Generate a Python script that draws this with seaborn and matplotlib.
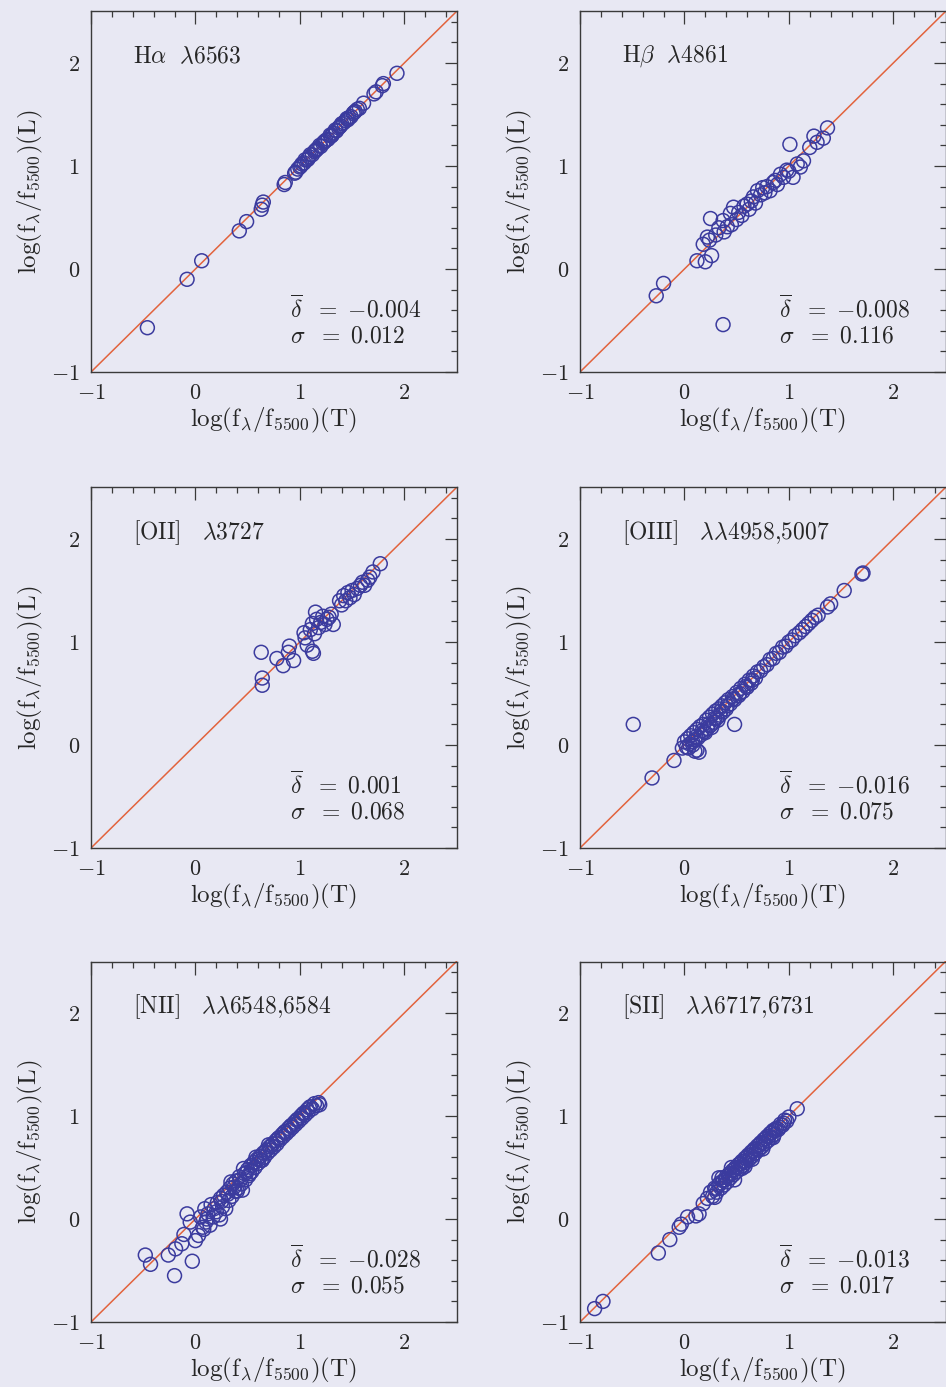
import numpy as np
import pandas as pd
import matplotlib
matplotlib.use("Agg")
import matplotlib.pyplot as plt
from matplotlib.ticker import MultipleLocator, FuncFormatter
import seaborn as sns

# ---- data: log(f_lambda/f_5500) from template fit (T) and line fit (L) ----
ha_t = [-0.46, -0.08, 0.06, 0.42, 0.49, 0.63, 0.64, 0.65, 0.85, 0.86, 0.95, 0.96, 0.98,
        1.00, 1.02, 1.04, 1.05, 1.07, 1.09, 1.10, 1.12, 1.14, 1.15, 1.17, 1.19, 1.20,
        1.22, 1.24, 1.25, 1.27, 1.29, 1.30, 1.32, 1.34, 1.35, 1.37, 1.39, 1.40, 1.42,
        1.44, 1.45, 1.47, 1.49, 1.51, 1.53, 1.55, 1.57, 1.61, 1.71, 1.73, 1.79, 1.80, 1.93,
        1.01, 1.08, 1.16, 1.23, 1.31, 1.38, 1.46, 1.52]
ha_l = [-0.57, -0.10, 0.08, 0.37, 0.46, 0.58, 0.62, 0.65, 0.82, 0.84, 0.93, 0.94, 0.97,
        0.99, 1.02, 1.03, 1.06, 1.06, 1.09, 1.11, 1.11, 1.14, 1.15, 1.17, 1.20, 1.19,
        1.22, 1.24, 1.25, 1.26, 1.30, 1.29, 1.32, 1.35, 1.34, 1.37, 1.39, 1.41, 1.42,
        1.44, 1.46, 1.47, 1.48, 1.51, 1.53, 1.55, 1.56, 1.61, 1.70, 1.72, 1.78, 1.80, 1.90,
        1.00, 1.07, 1.16, 1.23, 1.30, 1.38, 1.45, 1.52]

hb_t = [-0.27, -0.20, 0.37, 0.12, 0.20, 0.26, 0.18, 0.22, 0.25, 0.24, 0.30, 0.33, 0.37,
        0.38, 0.41, 0.44, 0.45, 0.47, 0.50, 0.52, 0.55, 0.57, 0.60, 0.62, 0.64, 0.66,
        0.68, 0.70, 0.73, 0.75, 0.77, 0.79, 0.82, 0.85, 0.87, 0.89, 0.92, 0.95, 0.98,
        1.00, 1.04, 1.08, 1.11, 1.14, 1.01, 1.20, 1.24, 1.27, 1.33, 1.37]
hb_l = [-0.26, -0.14, -0.54, 0.08, 0.07, 0.13, 0.24, 0.31, 0.49, 0.28, 0.33, 0.40, 0.47,
        0.36, 0.41, 0.54, 0.43, 0.60, 0.48, 0.55, 0.52, 0.61, 0.63, 0.58, 0.66, 0.70,
        0.64, 0.76, 0.72, 0.79, 0.74, 0.80, 0.76, 0.84, 0.86, 0.82, 0.92, 0.89, 0.96,
        0.95, 0.89, 1.02, 0.99, 1.05, 1.21, 1.18, 1.29, 1.23, 1.27, 1.37]

o2_t = [0.63, 0.64, 0.64, 0.78, 0.84, 0.90, 0.89, 0.94, 1.04, 1.05, 1.07, 1.12, 1.13,
        1.15, 1.10, 1.12, 1.14, 1.16, 1.18, 1.20, 1.22, 1.24, 1.26, 1.28, 1.30, 1.32,
        1.38, 1.40, 1.42, 1.44, 1.46, 1.48, 1.50, 1.52, 1.55, 1.58, 1.60, 1.62, 1.65,
        1.67, 1.70, 1.77]
o2_l = [0.90, 0.65, 0.58, 0.84, 0.77, 0.96, 0.90, 0.82, 1.09, 1.04, 0.97, 0.91, 0.89,
        1.29, 1.12, 1.18, 1.08, 1.22, 1.14, 1.19, 1.25, 1.17, 1.22, 1.24, 1.27, 1.17,
        1.40, 1.36, 1.45, 1.40, 1.48, 1.43, 1.50, 1.46, 1.52, 1.55, 1.58, 1.55, 1.60,
        1.63, 1.68, 1.76]

o3_t = [-0.49, 0.48, -0.31, -0.10, -0.02, 0.12, 0.14, 0.10,
        0.00, 0.02, 0.03, 0.05, 0.06, 0.08, 0.09, 0.10, 0.12, 0.13, 0.15, 0.16, 0.18,
        0.19, 0.21, 0.22, 0.24, 0.25, 0.27, 0.28, 0.30, 0.31, 0.33, 0.34, 0.36, 0.37,
        0.39, 0.40, 0.42, 0.44, 0.46, 0.48, 0.50, 0.52, 0.54, 0.56, 0.58, 0.60, 0.62,
        0.64, 0.66, 0.68, 0.70, 0.73, 0.76, 0.79, 0.82, 0.85, 0.88, 0.91, 0.94, 0.97,
        1.00, 1.03, 1.06, 1.10, 1.13, 1.16, 1.19, 1.22, 1.25, 1.28,
        1.37, 1.40, 1.53, 1.70, 1.71,
        0.04, 0.11, 0.17, 0.23, 0.29, 0.35, 0.41, 0.47, 0.53, 0.59, 0.65, 0.20, 0.26,
        0.32, 0.08]
o3_l = [0.20, 0.20, -0.32, -0.15, -0.03, -0.05, -0.07, -0.06,
        0.03, -0.02, 0.06, 0.01, 0.09, 0.03, 0.12, 0.05, 0.15, 0.07, 0.18, 0.10, 0.20,
        0.13, 0.24, 0.16, 0.27, 0.19, 0.30, 0.22, 0.33, 0.26, 0.35, 0.29, 0.38, 0.32,
        0.41, 0.35, 0.44, 0.40, 0.47, 0.44, 0.51, 0.48, 0.55, 0.52, 0.59, 0.56, 0.63,
        0.60, 0.67, 0.65, 0.71, 0.72, 0.76, 0.78, 0.83, 0.84, 0.89, 0.90, 0.95, 0.96,
        1.00, 1.02, 1.06, 1.09, 1.12, 1.15, 1.18, 1.21, 1.24, 1.26,
        1.34, 1.37, 1.50, 1.66, 1.67,
        -0.03, 0.08, 0.14, 0.20, 0.26, 0.33, 0.38, 0.45, 0.50, 0.57, 0.63, 0.12, 0.17,
        0.24, 0.00]

n2_t = [-0.48, -0.43, -0.20, -0.03, -0.26, -0.19, -0.13, -0.11, -0.08, -0.05, 0.00,
        0.03, 0.08, 0.11, 0.24,
        0.05, 0.07, 0.09, 0.10, 0.12, 0.14, 0.15, 0.17, 0.18, 0.20, 0.21, 0.23, 0.24,
        0.26, 0.27, 0.29, 0.30, 0.32, 0.33, 0.35, 0.36, 0.38, 0.39, 0.41, 0.42, 0.44,
        0.45, 0.47, 0.48, 0.50, 0.51, 0.53, 0.54, 0.56, 0.57, 0.59, 0.60, 0.62, 0.63,
        0.65, 0.66, 0.68, 0.69, 0.71, 0.72, 0.74, 0.75, 0.77, 0.78, 0.80, 0.81, 0.83,
        0.84, 0.86, 0.87, 0.89, 0.90, 0.92, 0.93, 0.95, 0.96, 0.98, 0.99, 1.01, 1.02,
        1.04, 1.05, 1.07, 1.08, 1.10, 1.12, 1.14, 1.16, 1.18, 1.19,
        0.25, 0.31, 0.37, 0.43, 0.49, 0.55, 0.61, 0.67, 0.73, 0.79, 0.85, 0.91, 0.97,
        1.03, 1.09, 0.34, 0.40, 0.46, 0.52, 0.58, 0.64, 0.70]
n2_l = [-0.35, -0.44, -0.55, -0.41, -0.35, -0.29, -0.24, -0.15, 0.05, -0.03, -0.21,
        -0.16, -0.10, 0.00, 0.00,
        0.02, -0.08, 0.10, -0.03, 0.05, -0.06, 0.14, 0.02, 0.10, 0.07, 0.16, 0.04, 0.20,
        0.12, 0.23, 0.10, 0.26, 0.18, 0.30, 0.22, 0.34, 0.27, 0.37, 0.30, 0.41, 0.34,
        0.28, 0.44, 0.38, 0.48, 0.42, 0.52, 0.46, 0.55, 0.50, 0.58, 0.54, 0.61, 0.57,
        0.64, 0.60, 0.67, 0.64, 0.70, 0.67, 0.73, 0.70, 0.76, 0.73, 0.79, 0.77, 0.82,
        0.80, 0.85, 0.83, 0.88, 0.86, 0.91, 0.89, 0.94, 0.92, 0.97, 0.95, 1.00, 0.98,
        1.03, 1.01, 1.06, 1.04, 1.09, 1.07, 1.12, 1.10, 1.13, 1.11,
        0.17, 0.24, 0.31, 0.38, 0.45, 0.52, 0.58, 0.65, 0.71, 0.78, 0.84, 0.90, 0.96,
        1.02, 1.08, 0.36, 0.27, 0.49, 0.44, 0.60, 0.57, 0.72]

s2_t = [-0.86, -0.78, -0.25, -0.14, -0.05, -0.03, 0.03, 0.11, 0.14, 0.18, 0.29, 0.33,
        0.22, 0.25, 0.27, 0.29, 0.31, 0.33, 0.35, 0.37, 0.38, 0.40, 0.41, 0.43, 0.44,
        0.46, 0.47, 0.49, 0.50, 0.52, 0.53, 0.55, 0.56, 0.58, 0.59, 0.61, 0.62, 0.64,
        0.65, 0.67, 0.68, 0.70, 0.71, 0.73, 0.74, 0.76, 0.77, 0.79, 0.80, 0.82, 0.83,
        0.85, 0.86, 0.88, 0.90, 0.92, 0.94, 0.96, 0.98, 1.00, 1.08,
        0.30, 0.34, 0.39, 0.42, 0.45, 0.48, 0.51, 0.54, 0.57, 0.60, 0.63, 0.66, 0.69,
        0.72, 0.75, 0.78, 0.81, 0.84, 0.87, 0.91, 0.95, 0.36, 0.45, 0.55, 0.65, 0.75,
        0.85, 0.48, 0.58]
s2_l = [-0.87, -0.80, -0.33, -0.20, -0.08, -0.05, 0.02, 0.03, 0.05, 0.15, 0.21, 0.40,
        0.20, 0.26, 0.22, 0.30, 0.26, 0.33, 0.30, 0.37, 0.33, 0.41, 0.36, 0.44, 0.40,
        0.47, 0.43, 0.50, 0.46, 0.53, 0.49, 0.56, 0.52, 0.59, 0.55, 0.62, 0.58, 0.65,
        0.61, 0.68, 0.64, 0.71, 0.67, 0.74, 0.70, 0.77, 0.73, 0.80, 0.76, 0.83, 0.79,
        0.86, 0.82, 0.88, 0.87, 0.92, 0.91, 0.96, 0.95, 0.99, 1.07,
        0.29, 0.35, 0.38, 0.42, 0.44, 0.48, 0.50, 0.54, 0.56, 0.60, 0.62, 0.66, 0.68,
        0.72, 0.74, 0.78, 0.80, 0.84, 0.86, 0.89, 0.93, 0.40, 0.50, 0.49, 0.58, 0.68,
        0.79, 0.38, 0.51]

titles = [r"$\mathrm{H}\alpha\ \ \lambda6563$",
          r"$\mathrm{H}\beta\ \ \lambda4861$",
          r"$[\mathrm{OII}]\quad\lambda3727$",
          r"$[\mathrm{OIII}]\quad\lambda\lambda4958{,}5007$",
          r"$[\mathrm{NII}]\quad\lambda\lambda6548{,}6584$",
          r"$[\mathrm{SII}]\quad\lambda\lambda6717{,}6731$"]
mean_delta = ["-0.004", "-0.008", "0.001", "-0.016", "-0.028", "-0.013"]
sigma_delta = ["0.012", "0.116", "0.068", "0.075", "0.055", "0.017"]

panels_t = [ha_t, hb_t, o2_t, o3_t, n2_t, s2_t]
panels_l = [ha_l, hb_l, o2_l, o3_l, n2_l, s2_l]

axis_range = [-1.0, 2.5]

# ---- style ----
bg = "#e8e8f3"
ink = "#3a3a3a"
txt = "#262626"
circle_col = "#3b3b9e"
line_col = "#e2633d"

sns.set_theme(style="white")
plt.rcParams.update({
    "mathtext.fontset": "cm",
    "figure.facecolor": bg,
    "axes.facecolor": bg,
    "savefig.facecolor": bg,
})

fig = plt.figure(figsize=(9.46, 13.87), dpi=100)

col_left = [91 / 946, 580 / 946]
col_width = 365.5 / 946
row_bottom = [1 - 372 / 1387, 1 - 848 / 1387, 1 - 1322 / 1387]
row_height = 360.5 / 1387


def fmt_tick(v, _):
    n = int(round(v))
    return r"${-}%d$" % -n if n < 0 else r"$%d$" % n


def signed(s):
    return "{-}" + s[1:] if s.startswith("-") else s


tick_fmt = FuncFormatter(fmt_tick)

for i in range(6):
    r, c = divmod(i, 2)
    ax = fig.add_axes([col_left[c], row_bottom[r], col_width, row_height])
    df = pd.DataFrame({"T": panels_t[i], "L": panels_l[i]})

    sns.lineplot(x=axis_range, y=axis_range, ax=ax, color=line_col, lw=1.1, zorder=1)
    sns.scatterplot(data=df, x="T", y="L", ax=ax, marker="o", s=100,
                    facecolors="none", edgecolor=circle_col, linewidth=1.1,
                    zorder=2)

    ax.set_xlim(axis_range)
    ax.set_ylim(axis_range)
    ax.xaxis.set_major_locator(MultipleLocator(1))
    ax.yaxis.set_major_locator(MultipleLocator(1))
    ax.xaxis.set_minor_locator(MultipleLocator(0.2))
    ax.yaxis.set_minor_locator(MultipleLocator(0.2))
    ax.xaxis.set_major_formatter(tick_fmt)
    ax.yaxis.set_major_formatter(tick_fmt)
    ax.tick_params(which="both", direction="in", top=True, right=True,
                   color=ink, width=0.9, labelsize=16, labelcolor=txt)
    ax.tick_params(which="major", length=9, pad=8)
    ax.tick_params(which="minor", length=4.5)
    for sp in ax.spines.values():
        sp.set_color(ink)
        sp.set_linewidth(1.0)

    ax.set_xlabel(r"$\mathrm{log}(\mathrm{f}_\lambda/\mathrm{f}_{5500})(\mathrm{T})$",
                  fontsize=18, color=txt)
    ax.set_ylabel(r"$\mathrm{log}(\mathrm{f}_\lambda/\mathrm{f}_{5500})(\mathrm{L})$",
                  fontsize=18, color=txt)
    ax.xaxis.label.set_va("center")
    ax.yaxis.label.set_va("center")
    ax.xaxis.set_label_coords(0.5, -0.135)
    ax.yaxis.set_label_coords(-0.167, 0.5)

    ax.text(0.115, 0.875, titles[i], transform=ax.transAxes, fontsize=17,
            ha="left", va="center", color=txt)
    ax.text(0.545, 0.175, r"$\overline{\delta}\ \ =\ %s$" % signed(mean_delta[i]),
            transform=ax.transAxes, fontsize=17, ha="left", va="center", color=txt)
    ax.text(0.545, 0.102, r"$\sigma\ \ =\ %s$" % signed(sigma_delta[i]),
            transform=ax.transAxes, fontsize=17, ha="left", va="center", color=txt)

fig.savefig("out.png", dpi=100)
